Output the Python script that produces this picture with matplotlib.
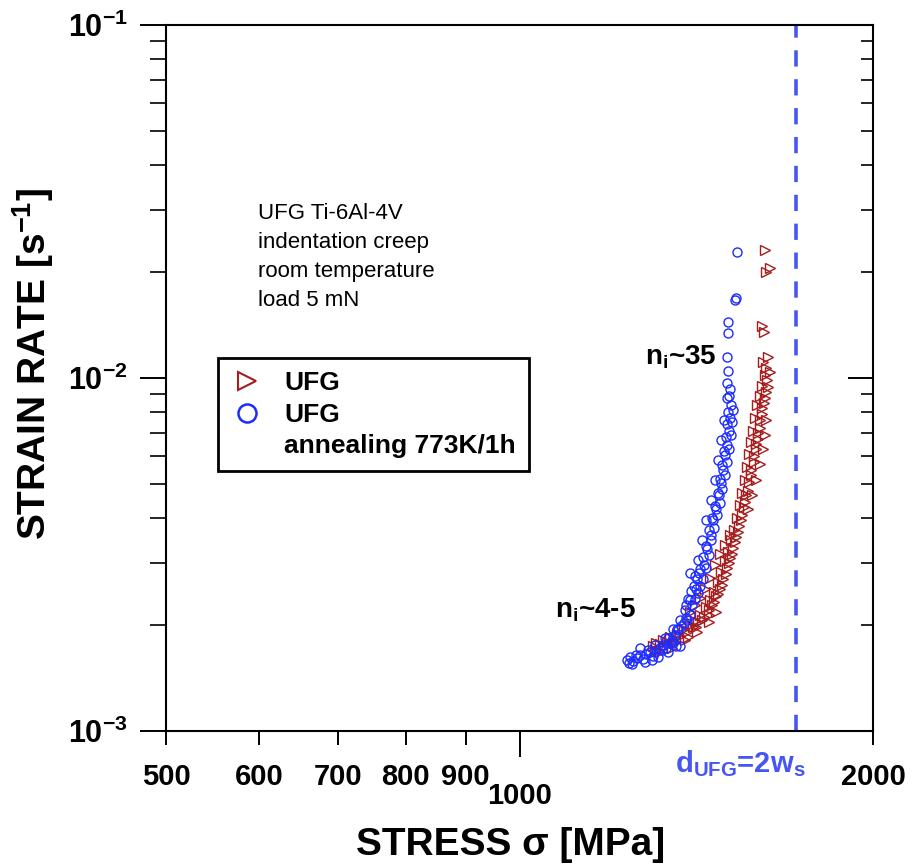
import matplotlib
matplotlib.use('Agg')
import matplotlib.pyplot as plt
from matplotlib.lines import Line2D

plt.rcParams['font.family'] = ['Liberation Sans', 'DejaVu Sans']
plt.rcParams['mathtext.fontset'] = 'custom'
plt.rcParams['mathtext.rm'] = 'Liberation Sans'
plt.rcParams['mathtext.bf'] = 'Liberation Sans:bold'
plt.rcParams['mathtext.it'] = 'Liberation Sans:italic'

# UFG annealed 773K/1h (blue circles): stress [MPa], strain rate [1/s]
blue_stress = [1235, 1242, 1249, 1259, 1266, 1274, 1282, 1292, 1300, 1308,
               1318, 1326, 1334, 1342, 1349, 1357, 1365, 1373, 1381, 1370,
               1389, 1398, 1384, 1403, 1392, 1411, 1420, 1409, 1425, 1417,
               1434, 1398, 1425, 1442, 1434, 1451, 1442, 1457, 1451, 1465,
               1459, 1474, 1468, 1482, 1476, 1488, 1482, 1497, 1488, 1503,
               1494, 1509, 1500, 1515, 1503, 1518, 1506, 1521, 1503, 1512,
               1503, 1506, 1503, 1506, 1506, 1527, 1530, 1533,
               1247, 1279, 1313, 1339, 1359, 1331, 1352, 1370, 1386, 1401,
               1411, 1420, 1431, 1442, 1457, 1468, 1476, 1485, 1494,
               1240, 1256, 1287, 1297, 1323, 1352, 1266, 1305, 1339, 1362,
               1386, 1398, 1414, 1422, 1437, 1445, 1457, 1462, 1471, 1479,
               1485, 1491, 1497, 1503, 1509, 1512, 1515, 1509]
blue_rate = [0.00159, 0.00162, 0.00158, 0.00161, 0.00164, 0.00160, 0.00165, 0.00167, 0.00163, 0.00170,
             0.00172, 0.00175, 0.00172, 0.00178, 0.00181, 0.00187, 0.00193, 0.00199, 0.00202, 0.00174,
             0.00206, 0.00213, 0.00220, 0.00227, 0.00237, 0.00237, 0.00246, 0.00257, 0.00257, 0.00269,
             0.00269, 0.00280, 0.00287, 0.00290, 0.00312, 0.00316, 0.00334, 0.00348, 0.00371, 0.00375,
             0.00400, 0.00408, 0.00434, 0.00443, 0.00472, 0.00484, 0.00518, 0.00530, 0.00566, 0.00578,
             0.0062, 0.0063, 0.0068, 0.0069, 0.0074, 0.0075, 0.0080, 0.0081, 0.0088, 0.0093,
             0.0097, 0.0105, 0.0115, 0.0134, 0.0144, 0.0166, 0.0169, 0.0228,
             0.00155, 0.00157, 0.00162, 0.00167, 0.00174, 0.00184, 0.00194, 0.00206, 0.00227, 0.00250,
             0.00275, 0.00305, 0.00348, 0.00396, 0.00451, 0.00514, 0.00586, 0.00667, 0.0076,
             0.00156, 0.00164, 0.00170, 0.00159, 0.00170, 0.00178, 0.00172, 0.00175, 0.00184, 0.00194,
             0.00209, 0.00235, 0.00253, 0.00280, 0.00296, 0.00328, 0.00358, 0.00396, 0.00426, 0.00465,
             0.00505, 0.0055, 0.00605, 0.00645, 0.0071, 0.0077, 0.0084, 0.0089]

# UFG as processed (red triangles)
red_stress = [1300, 1308, 1318, 1326, 1336, 1344, 1354, 1362, 1370, 1381,
              1389, 1398, 1406, 1411, 1420, 1425, 1436, 1442, 1451, 1454,
              1465, 1465, 1476, 1476, 1488, 1485, 1500, 1497, 1509, 1506,
              1518, 1515, 1527, 1524, 1536, 1533, 1544, 1541, 1554, 1547,
              1560, 1557, 1569, 1563, 1575, 1569, 1584, 1575, 1590, 1581,
              1597, 1587, 1603, 1593, 1609, 1603, 1619, 1609, 1628, 1619,
              1635, 1612, 1628, 1616, 1609, 1622, 1635, 1619,
              1398, 1411, 1425, 1439, 1454, 1468, 1482, 1497, 1512,
              1566, 1578, 1590, 1603, 1612, 1619, 1622,
              1318, 1349, 1384, 1417, 1449, 1471,
              1305, 1328, 1359, 1392, 1414, 1431, 1449, 1459, 1471, 1482,
              1491, 1503, 1512, 1521, 1530, 1538, 1547, 1557, 1566, 1575,
              1584, 1590, 1597, 1603, 1609, 1616, 1622, 1625, 1622]
red_rate = [0.00174, 0.00178, 0.00176, 0.00181, 0.00179, 0.00185, 0.00183, 0.00188, 0.00186, 0.00194,
            0.00191, 0.00200, 0.00197, 0.00205, 0.00203, 0.00213, 0.00210, 0.00224, 0.00220, 0.00235,
            0.00232, 0.00248, 0.00245, 0.00265, 0.00260, 0.00283, 0.00278, 0.00303, 0.00299, 0.00322,
            0.00317, 0.00348, 0.00342, 0.00371, 0.00367, 0.00400, 0.00396, 0.00437, 0.00430, 0.00472,
            0.00466, 0.00514, 0.00508, 0.0056, 0.0055, 0.0061, 0.0060, 0.0066, 0.0065, 0.0071,
            0.0070, 0.0077, 0.0076, 0.0084, 0.0082, 0.0089, 0.0088, 0.0095, 0.0094, 0.0102,
            0.0104, 0.0111, 0.0115, 0.0135, 0.0140, 0.0200, 0.0205, 0.0230,
            0.00217, 0.00227, 0.00238, 0.00253, 0.00272, 0.00296, 0.00317, 0.00337, 0.00360,
            0.00425, 0.00466, 0.00514, 0.0057, 0.0063, 0.0069, 0.0076,
            0.00167, 0.00172, 0.00181, 0.00191, 0.00203, 0.00217,
            0.00170, 0.00174, 0.00179, 0.00185, 0.00197, 0.00206, 0.00213, 0.00227, 0.00242, 0.00253,
            0.00270, 0.00289, 0.00310, 0.00330, 0.00354, 0.00381, 0.00410, 0.00445, 0.00480, 0.0053,
            0.00578, 0.0063, 0.0067, 0.0072, 0.0079, 0.0085, 0.0091, 0.0099, 0.0107]

d_ufg_stress = 1720
x_minor = [500, 600, 700, 800, 900, 2000]
x_major = [1000]
y_major = [1e-3, 1e-2, 1e-1]
y_labels = [r'$\mathbf{10^{-3}}$', r'$\mathbf{10^{-2}}$', r'$\mathbf{10^{-1}}$']

blue = '#1c2cff'
red = '#a51d1d'
dash_blue = '#4656f0'

fig = plt.figure(figsize=(9.13, 8.67), dpi=100)
ax = fig.add_axes([166/913, 1-731/867, 707/913, 706/867])
ax.set_xscale('log')
ax.set_yscale('log')

ax.plot(red_stress, red_rate, '>', mfc='none', mec=red, ms=6.5, mew=1.0, ls='none')
ax.plot(blue_stress, blue_rate, 'o', mfc='none', mec=blue, ms=6.5, mew=1.0, ls='none')
ax.axvline(d_ufg_stress, color=dash_blue, lw=2.6, ls=(0, (4.5, 3.5)))

ax.set_xlim(500, 2000)
ax.set_ylim(1e-3, 1e-1)

ax.set_xticks(x_major)
ax.set_xticklabels([str(v) for v in x_major])
ax.set_xticks(x_minor, minor=True)
ax.set_xticklabels([str(v) for v in x_minor], minor=True)
ax.set_yticks(y_major)
ax.set_yticklabels(y_labels)

for lab in ax.get_xticklabels(which='both'):
    lab.set_fontweight('bold')
ax.tick_params(axis='x', which='major', direction='out', length=18.5, width=1.4,
               labelsize=21, pad=18, top=False)
ax.tick_params(axis='x', which='minor', direction='out', length=10, width=1.4,
               labelsize=21, pad=13, top=False)
ax.tick_params(axis='y', which='major', direction='out', length=18.5, width=1.4,
               labelsize=22, pad=9, right=False)
ax.tick_params(axis='y', which='minor', direction='out', length=11.5, width=1.2,
               right=False, labelleft=False)
for s in ax.spines.values():
    s.set_linewidth(1.5)

# right side: inward ticks, no labels
ax2 = ax.twinx()
ax2.set_yscale('log')
ax2.set_ylim(1e-3, 1e-1)
ax2.tick_params(axis='y', which='major', direction='in', length=18, width=1.4, labelright=False)
ax2.tick_params(axis='y', which='minor', direction='in', length=9, width=1.2, labelright=False)
for s in ax2.spines.values():
    s.set_visible(False)

ax.set_xlabel('STRESS σ [MPa]', fontsize=28, fontweight='bold', va='center')
ax.xaxis.set_label_coords(0.487, -0.161)
ax.set_ylabel(r'STRAIN RATE [s$^{\mathbf{-1}}$]', fontsize=28, fontweight='bold', va='center')
ax.yaxis.set_label_coords(-0.188, 0.52)

ax.text(0.130, 0.748, 'UFG Ti-6Al-4V\nindentation creep\nroom temperature\nload 5 mN',
        transform=ax.transAxes, fontsize=16, va='top', ha='left', linespacing=1.5)
ax.text(0.6775, 0.530, r'n$_{\mathbf{i}}$~35', transform=ax.transAxes,
        fontsize=20, fontweight='bold', va='center', ha='left')
ax.text(0.550, 0.171, r'n$_{\mathbf{i}}$~4-5', transform=ax.transAxes,
        fontsize=20, fontweight='bold', va='center', ha='left')
ax.text(0.904, -0.058, r'd$_{\mathbf{UFG}}$=2w$_{\mathbf{s}}$', transform=ax.transAxes,
        fontsize=21, fontweight='bold', color=dash_blue, va='baseline', ha='right')

handles = [Line2D([], [], marker='>', ls='none', mfc='none', mec=red, ms=13, mew=1.5),
           Line2D([], [], marker='o', ls='none', mfc='none', mec=blue, ms=13, mew=1.8),
           Line2D([], [], ls='none')]
leg = ax.legend(handles, ['UFG', 'UFG', 'annealing 773K/1h'], loc='upper left',
                bbox_to_anchor=(0.0735, 0.528), borderaxespad=0, fancybox=False,
                edgecolor='black', framealpha=1, handlelength=1.2, handletextpad=0.8,
                labelspacing=0.28, borderpad=0.5,
                prop={'size': 19, 'weight': 'bold', 'family': ['Liberation Sans', 'DejaVu Sans']})
leg.get_frame().set_linewidth(2)

fig.savefig('out.png', dpi=100)
